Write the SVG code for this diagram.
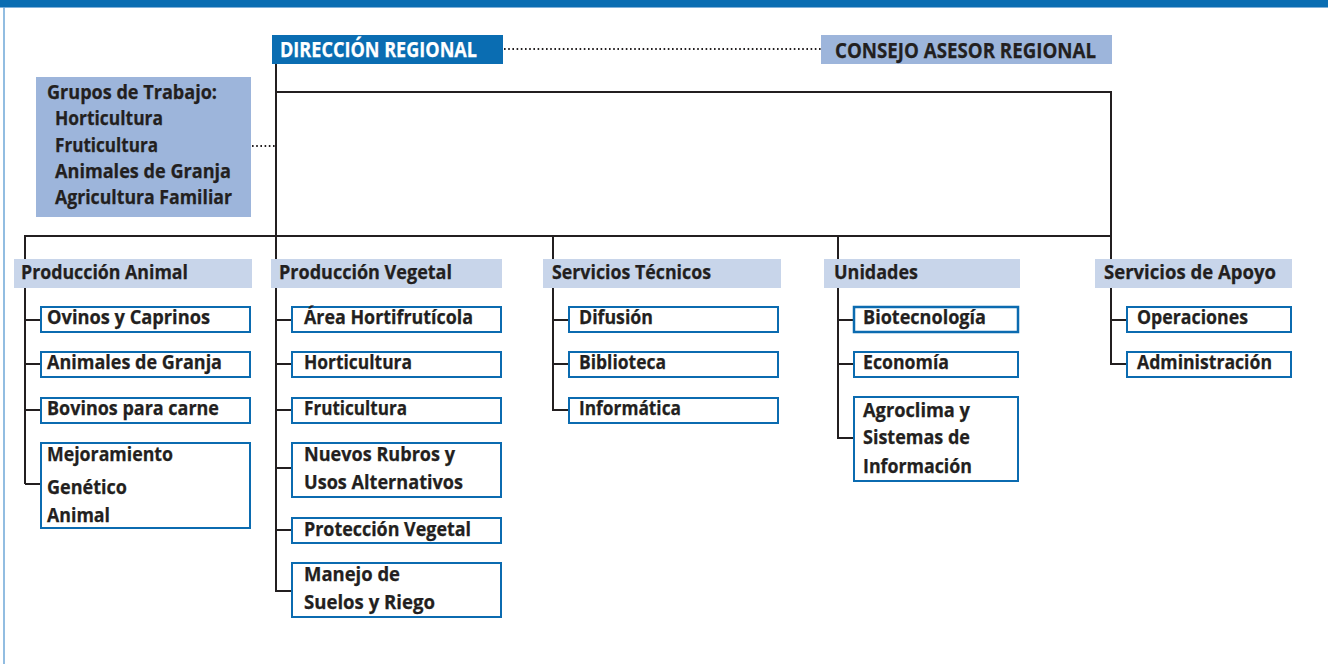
<svg xmlns="http://www.w3.org/2000/svg" width="1328" height="664" viewBox="0 0 1328 664">
<style>
.t{font-family:"Open Sans","Noto Sans","DejaVu Sans",sans-serif;font-weight:bold;font-size:19px;fill:#231F20;stroke:#231F20;stroke-width:0.25}
.big{font-size:20.5px}
.w{fill:#FFFFFF;stroke:#FFFFFF}
.box{fill:#FFFFFF;stroke:#0B6BB0;stroke-width:2}
.hdr{fill:#C8D5EA}
.lb{fill:#9DB5DB}
.blue{fill:#0A6DB2}
.ln{fill:none;stroke:#231F20;stroke-width:2;stroke-linejoin:miter}
.dot{fill:none;stroke:#231F20;stroke-width:2;stroke-dasharray:1.6 2.6}
</style>
<rect width="1328" height="664" fill="#FFFFFF"/>
<rect class="blue" x="0" y="0" width="1328" height="7"/>
<line x1="0" y1="7.5" x2="1328" y2="7.5" stroke="#7FB0D9" stroke-width="1"/>
<line x1="4" y1="7" x2="4" y2="664" stroke="#6EA7D7" stroke-width="1.5"/>

<g id="connectors">
<path class="ln" d="M276 64 V591 H291"/>
<path class="ln" d="M276 92 H1111 V364 H1126"/>
<path class="ln" d="M25 484 V236 H1111"/>
<path class="ln" d="M25 484 H40 M25 320 H40 M25 364 H40 M25 410 H40"/>
<path class="ln" d="M276 320 H291 M276 364 H291 M276 410 H291 M276 468 H291 M276 530 H291"/>
<path class="ln" d="M553 236 V410 H568 M553 320 H568 M553 364 H568"/>
<path class="ln" d="M838 236 V438 H853 M838 320 H853 M838 364 H853"/>
<path class="ln" d="M1111 320 H1126"/>
<path class="dot" d="M504 49 H821"/>
<path class="dot" d="M252 146 H276"/>
</g>

<g id="direccion">
<rect class="blue" x="272" y="35" width="231" height="29"/>
<text class="t big w" x="280" y="57" textLength="197" lengthAdjust="spacingAndGlyphs">DIRECCIÓN REGIONAL</text>
</g>
<g id="consejo">
<rect class="lb" x="821" y="35" width="291" height="29"/>
<text class="t big" x="835" y="58" textLength="261" lengthAdjust="spacingAndGlyphs">CONSEJO ASESOR REGIONAL</text>
</g>
<g id="grupos">
<rect class="lb" x="36" y="77" width="215" height="140"/>
<text class="t" x="47" y="99" textLength="170" lengthAdjust="spacingAndGlyphs">Grupos de Trabajo:</text>
<text class="t" x="55" y="125" textLength="108" lengthAdjust="spacingAndGlyphs">Horticultura</text>
<text class="t" x="55" y="152" textLength="103" lengthAdjust="spacingAndGlyphs">Fruticultura</text>
<text class="t" x="55" y="178" textLength="176" lengthAdjust="spacingAndGlyphs">Animales de Granja</text>
<text class="t" x="55" y="204" textLength="177" lengthAdjust="spacingAndGlyphs">Agricultura Familiar</text>
</g>

<g id="produccion-animal">
<rect class="hdr" x="14" y="259" width="238" height="29"/>
<text class="t" x="21" y="279" textLength="167" lengthAdjust="spacingAndGlyphs">Producción Animal</text>
</g>
<g id="ovinos">
<rect class="box" x="41" y="307" width="209" height="25"/>
<text class="t" x="47" y="324" textLength="163" lengthAdjust="spacingAndGlyphs">Ovinos y Caprinos</text>
</g>
<g id="animales-granja">
<rect class="box" x="41" y="352" width="209" height="25"/>
<text class="t" x="47" y="369" textLength="175" lengthAdjust="spacingAndGlyphs">Animales de Granja</text>
</g>
<g id="bovinos">
<rect class="box" x="41" y="398" width="209" height="25"/>
<text class="t" x="47" y="415" textLength="172" lengthAdjust="spacingAndGlyphs">Bovinos para carne</text>
</g>
<g id="mejoramiento">
<rect class="box" x="41" y="443" width="209" height="85"/>
<text class="t" x="47" y="461" textLength="126" lengthAdjust="spacingAndGlyphs">Mejoramiento</text>
<text class="t" x="47" y="494" textLength="80" lengthAdjust="spacingAndGlyphs">Genético</text>
<text class="t" x="47" y="522" textLength="63" lengthAdjust="spacingAndGlyphs">Animal</text>
</g>

<g id="produccion-vegetal">
<rect class="hdr" x="271" y="259" width="231" height="29"/>
<text class="t" x="279" y="279" textLength="173" lengthAdjust="spacingAndGlyphs">Producción Vegetal</text>
</g>
<g id="area-hortifruticola">
<rect class="box" x="292" y="307" width="209" height="25"/>
<text class="t" x="304" y="324" textLength="169" lengthAdjust="spacingAndGlyphs">Área Hortifrutícola</text>
</g>
<g id="horticultura">
<rect class="box" x="292" y="352" width="209" height="25"/>
<text class="t" x="304" y="369" textLength="108" lengthAdjust="spacingAndGlyphs">Horticultura</text>
</g>
<g id="fruticultura">
<rect class="box" x="292" y="398" width="209" height="25"/>
<text class="t" x="304" y="415" textLength="103" lengthAdjust="spacingAndGlyphs">Fruticultura</text>
</g>
<g id="nuevos-rubros">
<rect class="box" x="292" y="443" width="209" height="54"/>
<text class="t" x="304" y="461" textLength="151" lengthAdjust="spacingAndGlyphs">Nuevos Rubros y</text>
<text class="t" x="304" y="489" textLength="159" lengthAdjust="spacingAndGlyphs">Usos Alternativos</text>
</g>
<g id="proteccion-vegetal">
<rect class="box" x="292" y="518" width="209" height="25"/>
<text class="t" x="304" y="536" textLength="167" lengthAdjust="spacingAndGlyphs">Protección Vegetal</text>
</g>
<g id="manejo-suelos">
<rect class="box" x="292" y="563" width="209" height="54"/>
<text class="t" x="304" y="581" textLength="96" lengthAdjust="spacingAndGlyphs">Manejo de</text>
<text class="t" x="304" y="609" textLength="131" lengthAdjust="spacingAndGlyphs">Suelos y Riego</text>
</g>

<g id="servicios-tecnicos">
<rect class="hdr" x="543" y="259" width="238" height="29"/>
<text class="t" x="552" y="279" textLength="159" lengthAdjust="spacingAndGlyphs">Servicios Técnicos</text>
</g>
<g id="difusion">
<rect class="box" x="569" y="307" width="209" height="25"/>
<text class="t" x="579" y="324" textLength="74" lengthAdjust="spacingAndGlyphs">Difusión</text>
</g>
<g id="biblioteca">
<rect class="box" x="569" y="352" width="209" height="25"/>
<text class="t" x="579" y="369" textLength="87" lengthAdjust="spacingAndGlyphs">Biblioteca</text>
</g>
<g id="informatica">
<rect class="box" x="569" y="398" width="209" height="25"/>
<text class="t" x="579" y="415" textLength="102" lengthAdjust="spacingAndGlyphs">Informática</text>
</g>

<g id="unidades">
<rect class="hdr" x="824" y="259" width="196" height="29"/>
<text class="t" x="834" y="279" textLength="84" lengthAdjust="spacingAndGlyphs">Unidades</text>
</g>
<g id="biotecnologia">
<rect class="box" x="854" y="307" width="164" height="25" style="stroke-width:2.5"/>
<text class="t" x="863" y="324" textLength="123" lengthAdjust="spacingAndGlyphs">Biotecnología</text>
</g>
<g id="economia">
<rect class="box" x="854" y="352" width="164" height="25"/>
<text class="t" x="863" y="369" textLength="86" lengthAdjust="spacingAndGlyphs">Economía</text>
</g>
<g id="agroclima">
<rect class="box" x="854" y="397" width="164" height="84"/>
<text class="t" x="863" y="417" textLength="107" lengthAdjust="spacingAndGlyphs">Agroclima y</text>
<text class="t" x="863" y="444" textLength="107" lengthAdjust="spacingAndGlyphs">Sistemas de</text>
<text class="t" x="863" y="473" textLength="109" lengthAdjust="spacingAndGlyphs">Información</text>
</g>

<g id="servicios-apoyo">
<rect class="hdr" x="1095" y="259" width="197" height="29"/>
<text class="t" x="1104" y="279" textLength="172" lengthAdjust="spacingAndGlyphs">Servicios de Apoyo</text>
</g>
<g id="operaciones">
<rect class="box" x="1127" y="307" width="164" height="25"/>
<text class="t" x="1137" y="324" textLength="111" lengthAdjust="spacingAndGlyphs">Operaciones</text>
</g>
<g id="administracion">
<rect class="box" x="1127" y="352" width="164" height="25"/>
<text class="t" x="1137" y="369" textLength="135" lengthAdjust="spacingAndGlyphs">Administración</text>
</g>
</svg>
